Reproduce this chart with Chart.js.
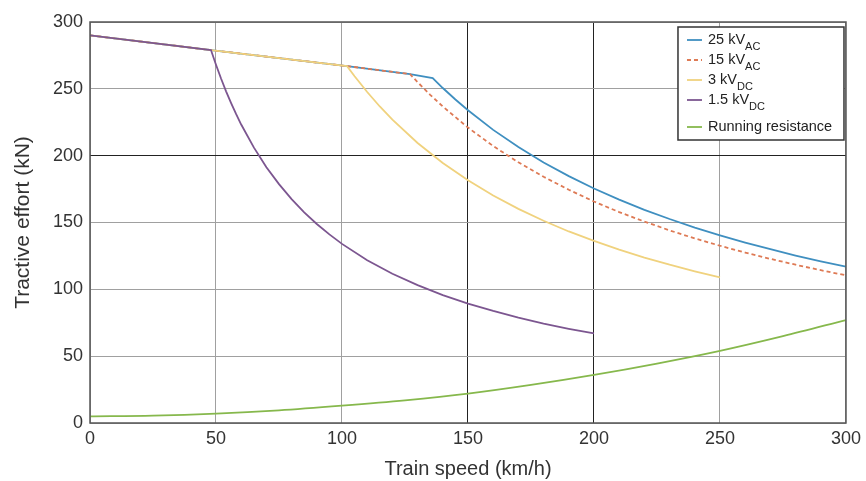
<!DOCTYPE html>
<html>
<head>
<meta charset="utf-8">
<script src="https://cdn.jsdelivr.net/npm/chart.js@4"></script>
<style>
  html, body { margin: 0; padding: 0; background: #fff; }
  #wrap { width: 866px; height: 481px; }
</style>
</head>
<body>
<div id="wrap"><canvas id="chart"></canvas></div>
<script>
// values (speed km/h, tractive effort kN)
const speed25 = [0, 48, 102, 127, 136, 140, 145, 150, 160, 170, 180, 190, 200, 210, 220, 230, 240, 250, 260, 270, 280, 290, 300];
const effort25 = [290, 279, 267, 261, 258, 250.6, 242, 234, 219.3, 206.4, 194.9, 184.7, 175.4, 167.1, 159.5, 152.6, 146.2, 140.4, 135, 130, 125.3, 121, 117];

const speed15 = [0, 48, 102, 127, 130, 135, 140, 150, 160, 170, 180, 190, 200, 210, 220, 230, 240, 250, 260, 270, 280, 290, 300];
const effort15 = [290, 279, 267, 261, 255, 245.5, 236.8, 221, 207.2, 195, 184.2, 174.5, 165.7, 157.8, 150.7, 144.1, 138.1, 132.6, 127.5, 122.8, 118.4, 114.3, 110.5];

const speed3 = [0, 48, 102, 105, 110, 115, 120, 130, 140, 150, 160, 170, 180, 190, 200, 210, 220, 230, 240, 250];
const effort3 = [290, 279, 267, 259.4, 247.6, 236.8, 227, 209.5, 194.5, 181.6, 170.2, 160.2, 151.3, 143.3, 136.2, 129.7, 123.8, 118.4, 113.5, 108.9];

const speed15dc = [0, 48, 50, 52, 54, 56, 58, 60, 65, 70, 75, 80, 85, 90, 95, 100, 110, 120, 130, 140, 150, 160, 170, 180, 190, 200];
const effort15dc = [290, 279, 268, 257.7, 248.1, 239.3, 231, 223.3, 206.2, 191.4, 178.7, 167.5, 157.6, 148.9, 141.1, 134, 121.8, 111.7, 103.1, 95.7, 89.3, 83.8, 78.8, 74.4, 70.5, 67];

const speedRes = [0, 25, 50, 75, 100, 125, 150, 175, 200, 225, 250, 275, 300];
const effortRes = [5, 5.5, 7, 9.5, 13, 17, 22, 28.5, 36, 44.5, 54, 65, 77];

const xTicks = [0, 50, 100, 150, 200, 250, 300];
const yTicks = [0, 50, 100, 150, 200, 250, 300];

// legend text split in main part + subscript
const legendNames = [['25 kV', 'AC'], ['15 kV', 'AC'], ['3 kV', 'DC'], ['1.5 kV', 'DC'], ['Running resistance', '']];

const pts = (xs, ys) => xs.map((x, i) => ({ x: x, y: ys[i] }));

const colors = {
  blue: '#3f8fc0',
  orange: '#de7a55',
  yellow: '#f0d27e',
  purple: '#7c5690',
  green: '#86b84c'
};
const font = '"Liberation Sans", Arial, sans-serif';

const frame = {
  id: 'frame',
  afterDraw(chart) {
    const { ctx, chartArea: a } = chart;
    ctx.save();
    ctx.strokeStyle = '#555';
    ctx.lineWidth = 1.5;
    ctx.strokeRect(a.left, a.top, a.right - a.left, a.bottom - a.top);

    // legend box with subscripts
    const bx = a.right - 168, by = a.top + 5, bw = 166, bh = 113;
    ctx.fillStyle = '#fff';
    ctx.fillRect(bx, by, bw, bh);
    ctx.strokeStyle = '#333';
    ctx.lineWidth = 1.5;
    ctx.strokeRect(bx, by, bw, bh);
    const rows = [13, 33, 53, 73, 100];
    chart.data.datasets.forEach((ds, i) => {
      const y = by + rows[i];
      ctx.strokeStyle = ds.borderColor;
      ctx.lineWidth = 1.8;
      ctx.setLineDash(ds.borderDash || []);
      ctx.beginPath();
      ctx.moveTo(bx + 9, y);
      ctx.lineTo(bx + 24, y);
      ctx.stroke();
      ctx.setLineDash([]);
      ctx.fillStyle = '#222';
      ctx.font = '14.5px ' + font;
      ctx.textBaseline = 'middle';
      ctx.textAlign = 'left';
      const main = legendNames[i][0];
      ctx.fillText(main, bx + 30, y);
      if (legendNames[i][1]) {
        const w = ctx.measureText(main).width;
        ctx.font = '11px ' + font;
        ctx.fillText(legendNames[i][1], bx + 30 + w, y + 7);
      }
    });
    ctx.restore();
  }
};

new Chart(document.getElementById('chart'), {
  type: 'line',
  data: {
    datasets: [
      { label: '25 kVAC', data: pts(speed25, effort25), borderColor: colors.blue, order: 4 },
      { label: '15 kVAC', data: pts(speed15, effort15), borderColor: colors.orange, borderDash: [4, 3], order: 3 },
      { label: '3 kVDC', data: pts(speed3, effort3), borderColor: colors.yellow, order: 2 },
      { label: '1.5 kVDC', data: pts(speed15dc, effort15dc), borderColor: colors.purple, order: 1 },
      { label: 'Running resistance', data: pts(speedRes, effortRes), borderColor: colors.green, cubicInterpolationMode: 'monotone', order: 5 }
    ]
  },
  options: {
    responsive: true,
    maintainAspectRatio: false,
    animation: false,
    layout: { padding: { top: 22, right: 20, left: 0, bottom: 0 } },
    elements: { point: { radius: 0 }, line: { tension: 0, fill: false, borderWidth: 1.8 } },
    plugins: { legend: { display: false }, tooltip: { enabled: false } },
    scales: {
      x: {
        type: 'linear', min: 0, max: 300,
        afterBuildTicks: (s) => { s.ticks = xTicks.map(v => ({ value: v })); },
        afterFit: (s) => { s.height = 58; },
        grid: {
          drawTicks: false,
          color: (c) => (c.tick && (c.tick.value === 150 || c.tick.value === 200)) ? '#222' : '#a0a0a0',
          lineWidth: 1
        },
        border: { display: false },
        ticks: { padding: 5, color: '#333', font: { family: font, size: 18 } },
        title: { display: true, text: 'Train speed (km/h)', color: '#333', padding: { top: 1, bottom: 0 }, font: { family: font, size: 20 } }
      },
      y: {
        min: 0, max: 300,
        afterBuildTicks: (s) => { s.ticks = yTicks.map(v => ({ value: v })); },
        afterFit: (s) => { s.width = 90; },
        grid: {
          drawTicks: false,
          color: (c) => (c.tick && c.tick.value === 200) ? '#222' : '#a0a0a0',
          lineWidth: 1
        },
        border: { display: false },
        ticks: { padding: 7, color: '#333', font: { family: font, size: 18 } },
        title: { display: true, text: 'Tractive effort (kN)', color: '#333', padding: { top: 11, bottom: 0 }, font: { family: font, size: 21 } }
      }
    }
  },
  plugins: [frame]
});
</script>
</body>
</html>
